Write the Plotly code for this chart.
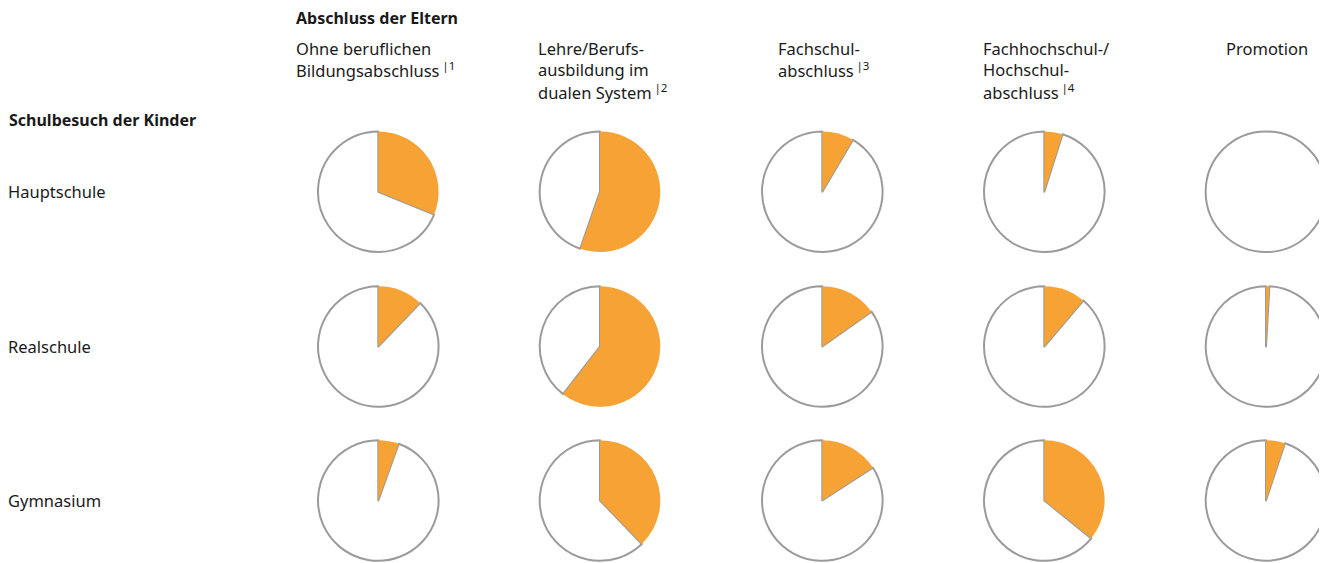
import plotly.graph_objects as go

# ---- data (percent of children at each school type by parents' highest qualification) ----
parent_groups = [
    "Ohne beruflichen Bildungsabschluss",
    "Lehre/Berufsausbildung im dualen System",
    "Fachschulabschluss",
    "Fachhochschul-/Hochschulabschluss",
    "Promotion",
]
school_types = ["Hauptschule", "Realschule", "Gymnasium"]

hauptschule = [31.2, 55.3, 8.5, 4.9, 0.0]
realschule = [12.2, 60.5, 15.2, 11.2, 0.9]
gymnasium = [5.5, 37.8, 15.8, 35.8, 5.1]

header_lines = [
    ["Ohne beruflichen", "Bildungsabschluss\u2009<sup>|1</sup>"],
    ["Lehre/Berufs-", "ausbildung im", "dualen System\u2009<sup>|2</sup>"],
    ["Fachschul-", "abschluss\u2009<sup>|3</sup>"],
    ["Fachhochschul-/", "Hochschul-", "abschluss\u2009<sup>|4</sup>"],
    ["Promotion"],
]
title_parents = "Abschluss der Eltern"
title_children = "Schulbesuch der Kinder"

# ---- layout constants (page pixels; the page body adds an 8px offset) ----
OFF = 8
W, H = 1327 - OFF, 563 - OFF
col_cx = [378.3, 600.0, 822.3, 1044.3, 1266.0]
row_cy = [191.7, 346.5, 500.5]
R = 60.3
header_x = [295, 537, 777, 982, 1225]
ORANGE = "#F6A235"
GREY = "#9B9B9B"
TXT = "#1a1a1a"
FONT = "Noto Sans"

rows = [hauptschule, realschule, gymnasium]

def fx(px):
    return (px - OFF) / W

def fy(py):
    return 1 - (py - OFF) / H

fig = go.Figure()
for i, vals in enumerate(rows):
    cy = row_cy[i]
    for j, v in enumerate(vals):
        cx = col_cx[j]
        # white remainder first, orange share drawn on top starting at 12 o'clock
        fig.add_trace(go.Pie(
            values=[100 - v, v],
            labels=["Rest", "Anteil"],
            sort=False,
            direction="clockwise",
            rotation=v * 3.6,
            textinfo="none",
            hoverinfo="skip",
            showlegend=False,
            marker=dict(colors=["#ffffff", ORANGE],
                        line=dict(color=[GREY, ORANGE], width=[2, 0])),
            domain=dict(x=[max(0.0, fx(cx - R)), min(1.0, fx(cx + R))],
                        y=[max(0.0, fy(cy + R)), min(1.0, fy(cy - R))]),
        ))

ann = []
def add_text(txt, px, py, size=16.5, bold=False):
    ann.append(dict(
        text=f"<b>{txt}</b>" if bold else txt,
        x=fx(px), y=fy(py), xref="paper", yref="paper",
        xanchor="left", yanchor="middle", showarrow=False,
        font=dict(family=FONT, size=size, color=TXT), align="left",
    ))

add_text(title_parents, 294, 18, size=16, bold=True)
for j, lines in enumerate(header_lines):
    for k, line in enumerate(lines):
        add_text(line, header_x[j] - 1, 48 + 22 * k)
add_text(title_children, 7, 120, size=16, bold=True)
for i, s in enumerate(school_types):
    add_text(s, 6, row_cy[i])

fig.update_layout(
    width=W, height=H,
    margin=dict(l=0, r=0, t=0, b=0),
    paper_bgcolor="white", plot_bgcolor="white",
    annotations=ann,
    font=dict(family=FONT),
)
fig.write_html("out.html")
